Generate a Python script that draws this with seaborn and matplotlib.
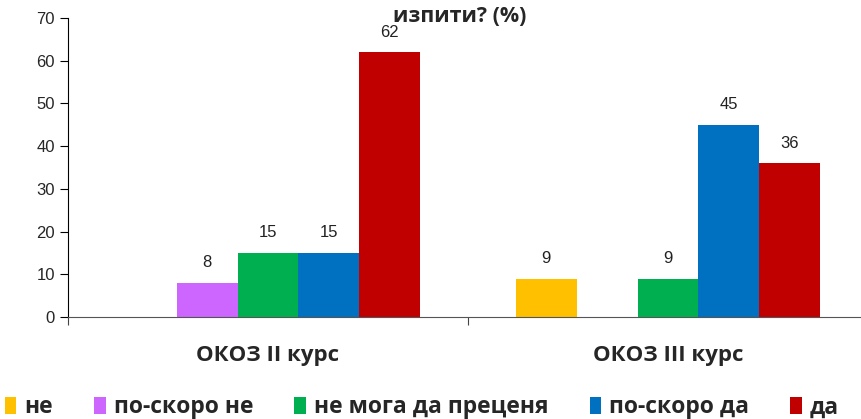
import matplotlib.pyplot as plt
import numpy as np
import pandas as pd
import seaborn as sns

groups = ["ОКОЗ II курс", "ОКОЗ III курс"]
answers = ["не", "по-скоро не", "не мога да преценя", "по-скоро да", "да"]
colors = ["#FFC000", "#CC66FF", "#00B050", "#0070C0", "#C00000"]
values_ii = [np.nan, 8, 15, 15, 62]
values_iii = [9, np.nan, 9, 45, 36]
title = "изпити? (%)"


def main():
    sns.set_style("white")
    plt.rcParams["font.family"] = ["Liberation Sans", "DejaVu Sans"]
    bold_font = ["Open Sans", "DejaVu Sans"]

    df = pd.DataFrame(
        {
            "group": np.repeat(groups, len(answers)),
            "answer": answers * len(groups),
            "value": values_ii + values_iii,
        }
    )

    fig = plt.figure(figsize=(8.61, 4.19), dpi=100)
    ax = fig.add_axes([68 / 861, 102 / 419, 800 / 861, 299 / 419])
    sns.barplot(
        data=df,
        x="group",
        y="value",
        hue="answer",
        order=groups,
        hue_order=answers,
        palette=colors,
        width=0.76,
        gap=0,
        saturation=1,
        errorbar=None,
        linewidth=0,
        legend=True,
        ax=ax,
    )
    for container in ax.containers:
        labels = ["" if np.isnan(v) else f"{v:.0f}" for v in container.datavalues]
        ax.bar_label(container, labels=labels, padding=9, fontsize=12, color="#222222")

    ax.set_xlim(-0.5, 1.5)
    ax.set_ylim(0, 70)
    ax.set_yticks(range(0, 71, 10))
    ax.set_xticks([-0.5, 0.5, 1.5])
    ax.set_xticklabels([])
    ax.set_xticks([0, 1], minor=True)
    ax.set_xticklabels(groups, minor=True, fontsize=16, fontweight="bold", family=bold_font)
    ax.tick_params(axis="x", which="minor", length=0, pad=20)
    ax.tick_params(axis="x", which="major", length=6, direction="out", bottom=True, color="#444444")
    ax.tick_params(axis="y", length=6, direction="out", left=True, labelsize=12, color="black")
    ax.set_xlabel("")
    ax.set_ylabel("")
    sns.despine(ax=ax)
    ax.spines["left"].set_color("black")
    ax.spines["bottom"].set_color("#555555")

    handles, lbls = ax.get_legend_handles_labels()
    ax.get_legend().remove()
    fig.legend(
        handles,
        lbls,
        loc="lower center",
        bbox_to_anchor=(0.49, -0.05),
        ncol=5,
        frameon=False,
        handlelength=0.5,
        handleheight=0.8,
        handletextpad=0.35,
        columnspacing=1.8,
        prop={"family": bold_font, "weight": "bold", "size": 16.5},
    )

    fig.text(0.534, 0.961, title, ha="center", va="center", fontsize=15.5,
             fontweight="bold", family=bold_font)

    fig.savefig("out.png", dpi=100)


if __name__ == "__main__":
    main()
